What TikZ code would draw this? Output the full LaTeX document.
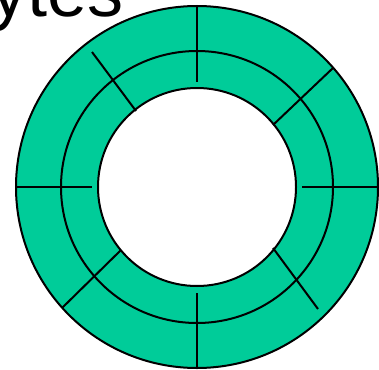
\documentclass[tikz,border=0pt]{standalone}
\usepackage{fontspec}
\setmainfont{Liberation Sans}
\definecolor{teal}{RGB}{0,204,153}
\begin{document}
\begin{tikzpicture}[x=1pt,y=-1pt,
  ring/.style={draw=black,line width=2pt},
  tick/.style={draw=black,line width=2pt}]
\useasboundingbox (0,0) rectangle (379,369);
\coordinate (c) at (197,187);
\fill[teal] (c) circle (181);
\draw[ring] (c) circle (181);
\draw[ring] (c) circle (136);
\fill[white] (c) circle (99);
\draw[ring] (c) circle (99);
% radial ticks
\coordinate (t1) at (197,6);   \coordinate (t2) at (197,82);
\coordinate (l1) at (16,187);  \coordinate (l2) at (92,187);
\coordinate (r1) at (302,187); \coordinate (r2) at (378,187);
\coordinate (b1) at (197,293); \coordinate (b2) at (197,368);
\coordinate (ul1) at (92,52);  \coordinate (ul2) at (136,111);
\coordinate (ur1) at (333,68); \coordinate (ur2) at (273,125);
\coordinate (ll1) at (121,250);\coordinate (ll2) at (62,308);
\coordinate (lr1) at (273,248);\coordinate (lr2) at (318,309);
\draw[tick] (t1) -- (t2);
\draw[tick] (l1) -- (l2);
\draw[tick] (r1) -- (r2);
\draw[tick] (b1) -- (b2);
\draw[tick] (ul1) -- (ul2);
\draw[tick] (ur1) -- (ur2);
\draw[tick] (ll1) -- (ll2);
\draw[tick] (lr1) -- (lr2);
\node[anchor=base east,inner sep=0pt,font=\fontsize{72}{72}\selectfont] (title) at (124,17) {ytes};
\end{tikzpicture}
\end{document}
